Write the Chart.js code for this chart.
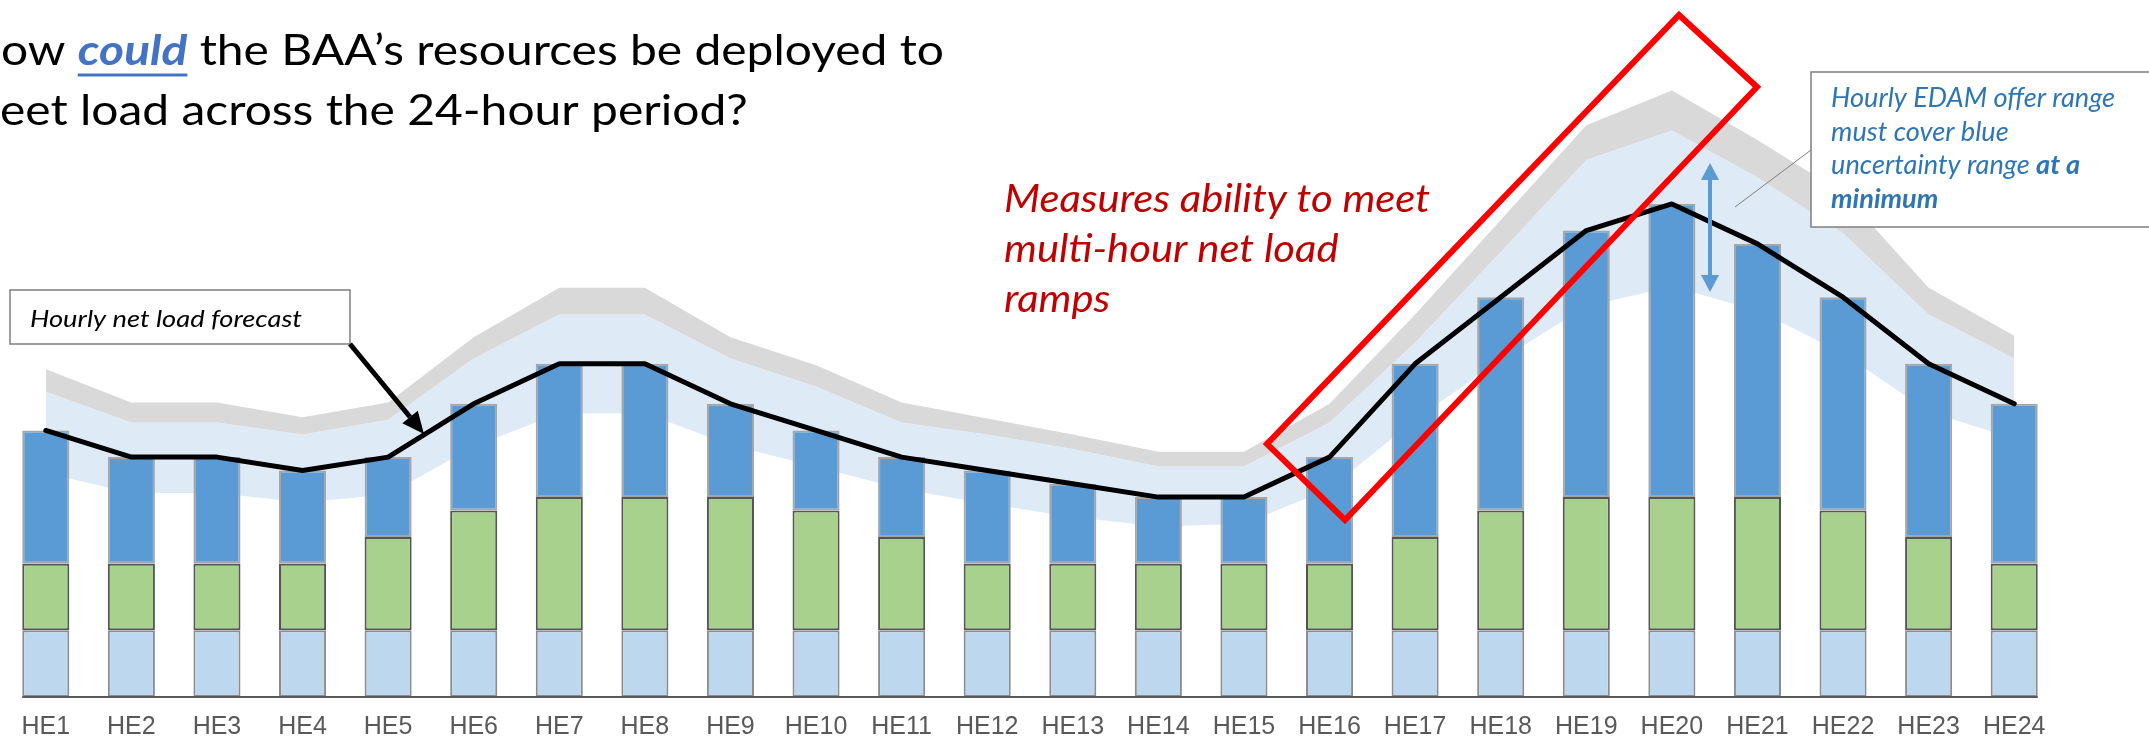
<!DOCTYPE html>
<html>
<head>
<meta charset="utf-8">
<script src="https://cdn.jsdelivr.net/npm/chart.js@4.4.1/dist/chart.umd.min.js"></script>
<style>
  html, body { margin: 0; padding: 0; background: #fff; overflow: hidden; }
</style>
</head>
<body>
<canvas id="chart" width="2149" height="738"></canvas>
<script>
// hours of the day
const hours = ["HE1", "HE2", "HE3", "HE4", "HE5", "HE6", "HE7", "HE8", "HE9", "HE10", "HE11", "HE12",
  "HE13", "HE14", "HE15", "HE16", "HE17", "HE18", "HE19", "HE20", "HE21", "HE22", "HE23", "HE24"];

// stacked resources (arbitrary units)
const baseRes = [5, 5, 5, 5, 5, 5, 5, 5, 5, 5, 5, 5, 5, 5, 5, 5, 5, 5, 5, 5, 5, 5, 5, 5];
const greenRes = [5, 5, 5, 5, 7, 9, 10, 10, 10, 9, 7, 5, 5, 5, 5, 5, 7, 9, 10, 10, 10, 9, 7, 5];
const blueRes = [10, 8, 8, 7, 6, 8, 10, 10, 7, 6, 6, 7, 6, 5, 5, 8, 13, 16, 20, 22, 19, 16, 13, 12];

// hourly net load forecast
const netLoad = [20, 18, 18, 17, 18, 22, 25, 25, 22, 20, 18, 17, 16, 15, 15, 18, 25, 30, 35, 37, 34, 30, 25, 22];

// uncertainty bands
const bandLow = [16.8, 15.3, 15.3, 14.6, 15.2, 18.8, 21.3, 21.3, 18.9, 17.3, 15.6, 14.5, 13.5, 12.8, 13.0, 15.6,
  20.8, 25.3, 29.3, 30.8, 29.0, 25.8, 21.4, 19.4];
const bandHigh = [22.9, 20.6, 20.6, 19.7, 20.8, 25.4, 28.7, 28.7, 25.4, 23.3, 20.6, 19.7, 18.6, 17.3, 17.3, 20.6,
  26.6, 33.4, 40.3, 42.5, 39.0, 34.8, 28.7, 25.4];
const offerHigh = [24.6, 22.1, 22.1, 21.0, 22.1, 27.0, 30.7, 30.7, 27.0, 24.9, 22.1, 20.9, 19.7, 18.4, 18.4, 22.0,
  28.7, 35.8, 42.9, 45.5, 41.8, 37.8, 30.7, 27.1];

const yMax = 52.3;
const FONT = "Lato, 'Open Sans', sans-serif";

function runsWidth(ctx, runs, size) {
  let w = 0;
  runs.forEach((r) => {
    ctx.font = `${r.style} ${size}px ${FONT}`;
    w += ctx.measureText(r.text).width;
  });
  return w;
}

// squeeze factor so the Lato line gets the width of the original (Calibri) line
function squeeze(ctx, runs, size, width) {
  return width / runsWidth(ctx, runs, size);
}

function drawRuns(ctx, runs, x, y, size, sx) {
  ctx.save();
  ctx.translate(x, y);
  ctx.scale(sx, 1);
  let cx = 0;
  runs.forEach((r) => {
    ctx.font = `${r.style} ${size}px ${FONT}`;
    ctx.fillStyle = r.color;
    ctx.fillText(r.text, cx, 0);
    const w = ctx.measureText(r.text).width;
    if (r.underline) ctx.fillRect(cx, size * 0.2, w, Math.max(2, size * 0.07));
    cx += w;
  });
  ctx.restore();
}

function arrow(ctx, x0, y0, x1, y1, len, half) {
  const a = Math.atan2(y1 - y0, x1 - x0);
  const c = Math.cos(a), s = Math.sin(a);
  ctx.beginPath();
  ctx.moveTo(x0, y0);
  ctx.lineTo(x1 - len * c, y1 - len * s);
  ctx.stroke();
  ctx.beginPath();
  ctx.moveTo(x1, y1);
  ctx.lineTo(x1 - len * c + half * s, y1 - len * s - half * c);
  ctx.lineTo(x1 - len * c - half * s, y1 - len * s + half * c);
  ctx.closePath();
  ctx.fill();
}

const annotations = {
  id: "annotations",
  afterDatasetsDraw(chart) {
    // axis line from first to last bar
    const ctx = chart.ctx;
    const bars = chart.getDatasetMeta(1).data;
    const first = bars[0], last = bars[bars.length - 1];
    const y = chart.chartArea.bottom;
    ctx.save();
    ctx.strokeStyle = "#595959";
    ctx.lineWidth = 2;
    ctx.beginPath();
    ctx.moveTo(first.x - first.width / 2, y);
    ctx.lineTo(last.x + last.width / 2, y);
    ctx.stroke();
    ctx.restore();
  },
  afterDraw(chart) {
    const ctx = chart.ctx;
    ctx.save();
    ctx.textBaseline = "alphabetic";

    // title
    const t1 = [
      { text: "ow ", style: "normal", color: "#000" },
      { text: "could", style: "italic bold", color: "#4472C4", underline: true },
      { text: " the BAA\u2019s resources be deployed to", style: "normal", color: "#000" },
    ];
    const t2 = [{ text: "eet load across the 24-hour period?", style: "normal", color: "#000" }];
    const ts = 42.5;
    const tsx = squeeze(ctx, t1, ts, 943);
    drawRuns(ctx, t1, 1, 65, ts, tsx);
    drawRuns(ctx, t2, 0, 125, ts, tsx);

    // net load label box + arrow
    ctx.fillStyle = "#fff";
    ctx.fillRect(10, 290, 340, 54);
    ctx.strokeStyle = "#7F7F7F";
    ctx.lineWidth = 1.5;
    ctx.strokeRect(10, 290, 340, 54);
    const nl = [{ text: "Hourly net load forecast", style: "italic", color: "#000" }];
    drawRuns(ctx, nl, 30, 327, 24, squeeze(ctx, nl, 24, 272));
    ctx.strokeStyle = "#000";
    ctx.fillStyle = "#000";
    ctx.lineWidth = 5;
    arrow(ctx, 350, 344, 424, 434, 22, 10);

    // red note
    const red = "#C00000";
    const r1 = [{ text: "Measures ability to meet", style: "italic", color: red }];
    const rs = 39;
    const rsx = squeeze(ctx, r1, rs, 426);
    drawRuns(ctx, r1, 1004, 212, rs, rsx);
    drawRuns(ctx, [{ text: "multi-hour net load", style: "italic", color: red }], 1004, 262, rs, rsx);
    drawRuns(ctx, [{ text: "ramps", style: "italic", color: red }], 1004, 312, rs, rsx);

    // callout box
    ctx.strokeStyle = "#7F7F7F";
    ctx.lineWidth = 1;
    ctx.beginPath();
    ctx.moveTo(1811, 150);
    ctx.lineTo(1735, 207);
    ctx.stroke();
    ctx.fillStyle = "#fff";
    ctx.fillRect(1811, 72, 345, 155);
    ctx.lineWidth = 1.5;
    ctx.strokeRect(1811, 72, 345, 155);
    const blue = "#2E75B6";
    const c1 = [{ text: "Hourly EDAM offer range", style: "italic", color: blue }];
    const cs = 26.5;
    const csx = squeeze(ctx, c1, cs, 284);
    drawRuns(ctx, c1, 1831, 107, cs, csx);
    drawRuns(ctx, [{ text: "must cover blue", style: "italic", color: blue }], 1831, 141, cs, csx);
    drawRuns(ctx, [
      { text: "uncertainty range ", style: "italic", color: blue },
      { text: "at a", style: "italic bold", color: blue },
    ], 1831, 174, cs, csx);
    drawRuns(ctx, [{ text: "minimum", style: "italic bold", color: blue }], 1831, 208, cs, csx);

    // uncertainty double arrow
    ctx.strokeStyle = "#5B9BD5";
    ctx.fillStyle = "#5B9BD5";
    ctx.lineWidth = 4;
    arrow(ctx, 1710, 228, 1710, 163, 17, 9);
    arrow(ctx, 1710, 228, 1710, 292, 17, 9);

    // red ramp box
    ctx.strokeStyle = "#FF0000";
    ctx.lineWidth = 6;
    ctx.lineJoin = "miter";
    ctx.beginPath();
    ctx.moveTo(1679, 15);
    ctx.lineTo(1757, 87);
    ctx.lineTo(1345, 520);
    ctx.lineTo(1267, 444);
    ctx.closePath();
    ctx.stroke();
    ctx.restore();
  },
};

new Chart(document.getElementById("chart"), {
  type: "bar",
  data: {
    labels: hours,
    datasets: [
      {
        type: "line",
        label: "Net load forecast",
        data: netLoad,
        yAxisID: "y2",
        borderColor: "#000",
        borderWidth: 5,
        borderJoinStyle: "round",
        borderCapStyle: "round",
        pointRadius: 0,
        tension: 0,
        fill: false,
        order: 1,
      },
      {
        label: "Base",
        data: baseRes,
        yAxisID: "y",
        backgroundColor: "#BDD7EE",
        borderColor: "#8C8C8C",
        borderWidth: 2,
        borderSkipped: false,
        order: 2,
      },
      {
        label: "Green",
        data: greenRes,
        yAxisID: "y",
        backgroundColor: "#A9D18E",
        borderColor: "#555555",
        borderWidth: 2,
        borderSkipped: false,
        order: 2,
      },
      {
        label: "Blue",
        data: blueRes,
        yAxisID: "y",
        backgroundColor: "#5B9BD5",
        borderColor: "#A6A6A6",
        borderWidth: 2,
        borderSkipped: false,
        order: 2,
      },
      {
        type: "line",
        label: "Band low",
        data: bandLow,
        yAxisID: "y2",
        borderWidth: 0,
        pointRadius: 0,
        tension: 0,
        fill: false,
        order: 5,
      },
      {
        type: "line",
        label: "Band high",
        data: bandHigh,
        yAxisID: "y2",
        borderWidth: 0,
        pointRadius: 0,
        tension: 0,
        backgroundColor: "#DEEBF7",
        fill: "-1",
        order: 4,
      },
      {
        type: "line",
        label: "Offer range",
        data: offerHigh,
        yAxisID: "y2",
        borderWidth: 0,
        pointRadius: 0,
        tension: 0,
        backgroundColor: "#D9D9D9",
        fill: "-1",
        order: 3,
      },
    ],
  },
  options: {
    responsive: false,
    animation: false,
    devicePixelRatio: 1,
    layout: { padding: { left: 3, right: 92, top: 0, bottom: 0 } },
    plugins: {
      legend: { display: false },
      tooltip: { enabled: false },
    },
    datasets: { bar: { categoryPercentage: 1, barPercentage: 0.55 } },
    scales: {
      x: {
        stacked: true,
        offset: true,
        grid: { display: false, drawTicks: false },
        border: { display: false },
        ticks: {
          color: "#595959",
          font: { family: "'Liberation Sans', Arial, sans-serif", size: 25 },
          padding: 15,
          maxRotation: 0,
          autoSkip: false,
        },
        afterFit: (axis) => {
          axis.height = 41;
        },
      },
      y: { stacked: true, min: 0, max: yMax, display: false },
      y2: { min: 0, max: yMax, display: false },
    },
  },
  plugins: [annotations],
});
</script>
</body>
</html>
